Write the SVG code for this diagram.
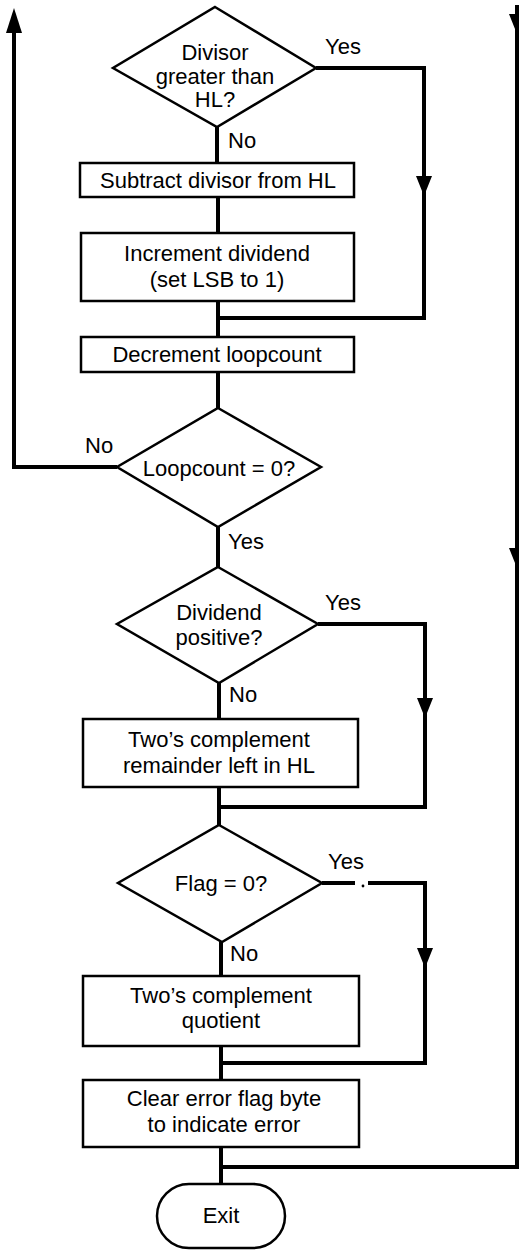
<svg xmlns="http://www.w3.org/2000/svg" width="519" height="1250" viewBox="0 0 519 1250">
  <style>
    .shape { fill: #fff; stroke: #000; stroke-width: 2.5; stroke-linejoin: miter; }
    .conn { fill: none; stroke: #000; stroke-width: 4; stroke-linecap: butt; stroke-linejoin: miter; }
    .ah { fill: #000; stroke: none; }
    text { font-family: "Liberation Sans", Arial, sans-serif; font-size: 22px; fill: #000; }
    .c { text-anchor: middle; }
  </style>
  <defs>
    <!-- arrowheads with the tip at the origin -->
    <path id="ahDown" d="M-8,-20 L8,-20 L0,0 Z"/>
    <path id="ahUp" d="M-8,25 L8,25 L0,0 Z"/>
  </defs>

  <rect width="519" height="1250" fill="#fff"/>

  <!-- connectors -->
  <g id="connectors">
    <!-- main spine -->
    <path class="conn" d="M217,127 V163"/>
    <path class="conn" d="M218,197 V233"/>
    <path class="conn" d="M218,301 V337"/>
    <path class="conn" d="M218,372 V408"/>
    <path class="conn" d="M218,527 V567"/>
    <path class="conn" d="M219,683 V719"/>
    <path class="conn" d="M219,787 V825"/>
    <path class="conn" d="M221,942 V976"/>
    <path class="conn" d="M221,1046 V1080"/>
    <path class="conn" d="M221,1147 V1184"/>

    <!-- Divisor > HL: Yes bypass -->
    <path class="conn" d="M316,68 H424 V318 H216"/>
    <use href="#ahDown" class="ah" x="424" y="196"/>

    <!-- Loopcount = 0: No, back to top -->
    <path class="conn" d="M117,467 H14 V28"/>
    <use href="#ahUp" class="ah" x="14" y="8"/>

    <!-- Dividend positive: Yes bypass -->
    <path class="conn" d="M318,624 H425 V807 H217"/>
    <use href="#ahDown" class="ah" x="425" y="718"/>

    <!-- Flag = 0: Yes bypass -->
    <path class="conn" d="M322,883 H355"/>
    <circle cx="363" cy="886" r="1.4" fill="#000"/>
    <path class="conn" d="M368,883 H425 V1063 H219"/>
    <use href="#ahDown" class="ah" x="425" y="968"/>

    <!-- entry line on the right edge -->
    <path class="conn" d="M517,5 V1167 H219"/>
    <use href="#ahDown" class="ah" x="517" y="34"/>
    <use href="#ahDown" class="ah" x="517" y="568"/>
  </g>

  <g id="n-divisor-test">
    <polygon class="shape" points="215,7 316,68 217,127 113,68"/>
    <text class="c" x="215" y="60">Divisor</text>
    <text class="c" x="215" y="84">greater than</text>
    <text class="c" x="215" y="107">HL?</text>
    <text x="325" y="54">Yes</text>
    <text x="228" y="148">No</text>
  </g>

  <g id="n-subtract">
    <rect class="shape" x="80" y="163" width="274" height="34"/>
    <text class="c" x="218" y="188">Subtract divisor from HL</text>
  </g>

  <g id="n-increment">
    <rect class="shape" x="81" y="233" width="273" height="68"/>
    <text class="c" x="217" y="261">Increment dividend</text>
    <text class="c" x="217" y="287">(set LSB to 1)</text>
  </g>

  <g id="n-decrement">
    <rect class="shape" x="81" y="337" width="273" height="35"/>
    <text class="c" x="217" y="362">Decrement loopcount</text>
  </g>

  <g id="n-loop-test">
    <polygon class="shape" points="218,408 321,467 218,527 117,467"/>
    <text class="c" x="219" y="476">Loopcount = 0?</text>
    <text x="85" y="453">No</text>
    <text x="228" y="549">Yes</text>
  </g>

  <g id="n-sign-test">
    <polygon class="shape" points="218,567 318,624 219,683 117,624"/>
    <text class="c" x="219" y="620">Dividend</text>
    <text class="c" x="219" y="645">positive?</text>
    <text x="325" y="610">Yes</text>
    <text x="229" y="702">No</text>
  </g>

  <g id="n-neg-remainder">
    <rect class="shape" x="83" y="719" width="275" height="68"/>
    <text class="c" x="219" y="747">Two’s complement</text>
    <text class="c" x="219" y="773">remainder left in HL</text>
  </g>

  <g id="n-flag-test">
    <polygon class="shape" points="219,825 322,883 222,942 118,883"/>
    <text class="c" x="221" y="891">Flag = 0?</text>
    <text x="328" y="869">Yes</text>
    <text x="230" y="961">No</text>
  </g>

  <g id="n-neg-quotient">
    <rect class="shape" x="83" y="976" width="276" height="70"/>
    <text class="c" x="221" y="1003">Two’s complement</text>
    <text class="c" x="221" y="1028">quotient</text>
  </g>

  <g id="n-clear-flag">
    <rect class="shape" x="83" y="1080" width="276" height="67"/>
    <text class="c" x="224" y="1106">Clear error flag byte</text>
    <text class="c" x="224" y="1132">to indicate error</text>
  </g>

  <g id="n-exit">
    <rect class="shape" x="157" y="1184" width="128" height="64" rx="32" ry="32"/>
    <text class="c" x="221" y="1223">Exit</text>
  </g>
</svg>
